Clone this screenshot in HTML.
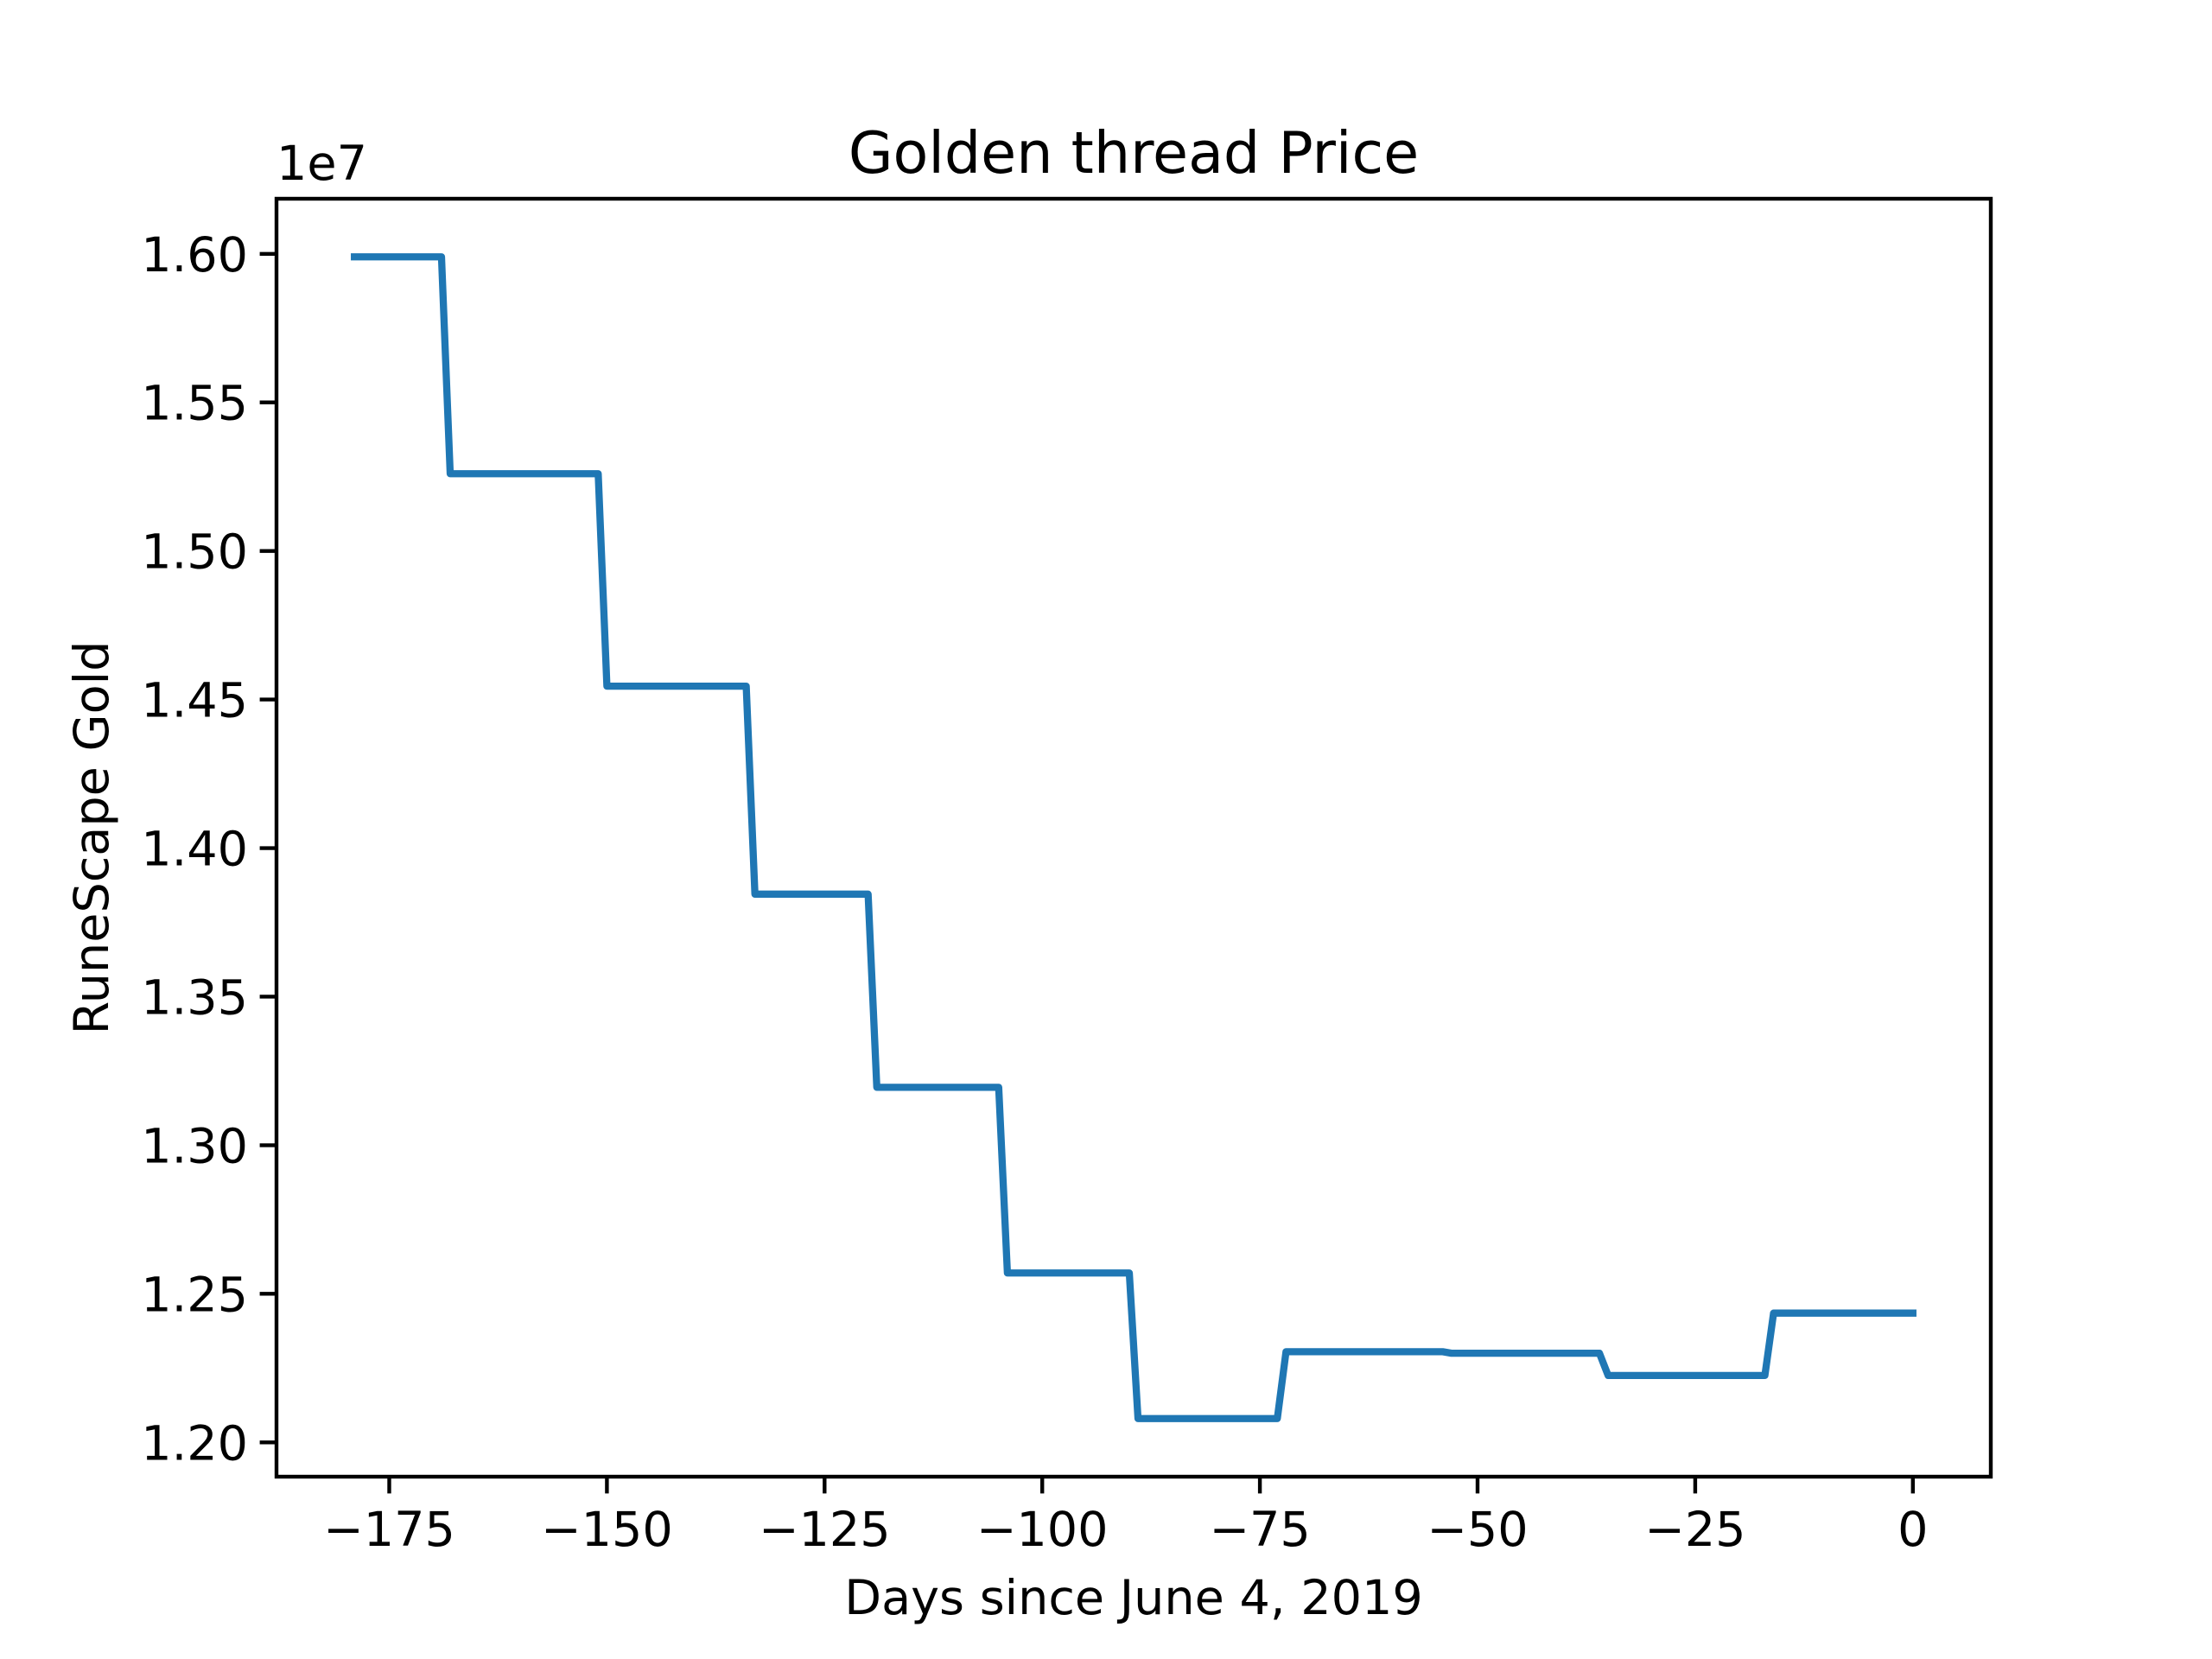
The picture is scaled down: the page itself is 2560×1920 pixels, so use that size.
<!DOCTYPE html>
<html><head><meta charset="utf-8">
<style>
html,body{margin:0;padding:0;background:#fff;}
svg{display:block;}
text{font-family:"DejaVu Sans","Liberation Sans",sans-serif;fill:#000;}
</style></head>
<body>
<svg id="chart" width="2560" height="1920" viewBox="0 0 2560 1920">
<rect x="0" y="0" width="2560" height="1920" fill="#fff"/>
<g id="plot"></g>
</svg>
<script>
const days = [-179,-169,-168,-151,-150,-134,-133,-120,-119,-105,-104,-90,-89,-73,-72,-54,-53,-36,-35,-17,-16,0];
const prices = [15990000,15990000,15260000,15260000,14545000,14545000,13845000,13845000,13195000,13195000,12570000,12570000,12080000,12080000,12305000,12305000,12300000,12300000,12225000,12225000,12435000,12435000];
const xTicks = [-175,-150,-125,-100,-75,-50,-25,0];
const xTickLabels = ["\u2212175","\u2212150","\u2212125","\u2212100","\u221275","\u221250","\u221225","0"];
const yTicks = [1.20,1.25,1.30,1.35,1.40,1.45,1.50,1.55,1.60];
const yTickLabels = ["1.20","1.25","1.30","1.35","1.40","1.45","1.50","1.55","1.60"];

const L=320,R=2304,T=230,B=1709;
const xmin0=Math.min(...days),xmax0=Math.max(...days);
const xpad=(xmax0-xmin0)*0.05;
const xmin=xmin0-xpad,xmax=xmax0+xpad;
const ys=prices.map(p=>p/1e7);
const ymin0=Math.min(...ys),ymax0=Math.max(...ys);
const ypad=(ymax0-ymin0)*0.05;
const ymin=ymin0-ypad,ymax=ymax0+ypad;
const sx=v=>L+(v-xmin)/(xmax-xmin)*(R-L);
const sy=v=>B-(v-ymin)/(ymax-ymin)*(B-T);
const NS="http://www.w3.org/2000/svg";
const g=document.getElementById('plot');
function mk(tag,attrs){const e=document.createElementNS(NS,tag);for(const k in attrs)e.setAttribute(k,attrs[k]);g.appendChild(e);return e;}

const line=mk('polyline',{points:days.map((d,i)=>sx(d)+','+sy(ys[i])).join(' '),fill:'none',stroke:'#1f77b4','stroke-width':8.3,'stroke-linejoin':'round','stroke-linecap':'square'});



xTicks.forEach((t,i)=>{
  const x=sx(t);
  const tk=mk('line',{x1:x,x2:x,y1:B,y2:B+19.4,stroke:'#000','stroke-width':4.4});
  
  
  const tx=mk('text',{x:x,y:B+80,'font-size':55.6,'text-anchor':'middle'});
  tx.textContent=xTickLabels[i];
  
  
});
yTicks.forEach((t,i)=>{
  const y=sy(t);
  const tk=mk('line',{x1:L-19.4,x2:L,y1:y,y2:y,stroke:'#000','stroke-width':4.4});
  
  
  const tx=mk('text',{x:L-33,y:y+20,'font-size':55.6,'text-anchor':'end'});
  tx.textContent=yTickLabels[i];
  
  
});
const frame=mk('rect',{x:L,y:T,width:R-L,height:B-T,fill:'none',stroke:'#000','stroke-width':4.4});


const off=mk('text',{x:L,y:T-22,'font-size':55.6});
off.textContent='1e7';


const title=mk('text',{x:(L+R)/2,y:T-30,'font-size':66.7,'text-anchor':'middle'});
title.textContent='Golden thread Price';


const xl=mk('text',{x:(L+R)/2,y:1868,'font-size':55.6,'text-anchor':'middle'});
xl.textContent='Days since June 4, 2019';


const yl=mk('text',{x:0,y:0,'font-size':55.6,'text-anchor':'middle',transform:'translate(125,'+((T+B)/2)+') rotate(-90)'});
yl.textContent='RuneScape Gold';


</script>
</body></html>
